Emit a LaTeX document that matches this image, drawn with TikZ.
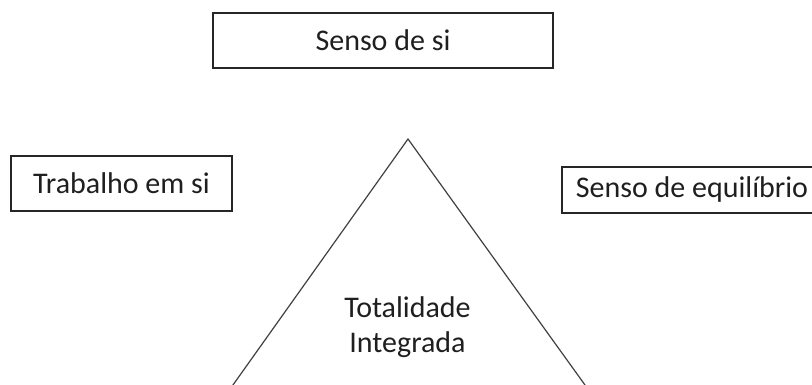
\documentclass[tikz,border=0pt]{standalone}
\usepackage{fontspec}
\setmainfont{Carlito}
\begin{document}
\begin{tikzpicture}[x=1pt,y=-1pt,
  lbl/.style={font=\fontsize{30}{35}\selectfont, text=black!88},
  box/.style={lbl, draw=black!85, line width=1.3pt, inner sep=0pt},
  tri/.style={draw=black!75, line width=1.2pt}]
\useasboundingbox (0,0) rectangle (812,385);
\clip (0,0) rectangle (812,385);
\node[box, minimum width=340pt, minimum height=55pt] (self) at (383,40.5) {Senso de si};
\node[box, minimum width=221pt, minimum height=55pt] (work) at (121.5,183.5) {Trabalho em si};
\node[box, minimum width=260pt, minimum height=46pt] (bal) at (692,190) {Senso de equilíbrio};
\coordinate (apex) at (408,139);
\coordinate (bl) at (229.4,390);
\coordinate (br) at (588.6,390);
\draw[tri] (bl) -- (apex) -- (br);
\node[lbl, anchor=base] (tot) at (407.5,317) {Totalidade};
\node[lbl, anchor=base] (int) at (407.5,352) {Integrada};
\end{tikzpicture}
\end{document}
